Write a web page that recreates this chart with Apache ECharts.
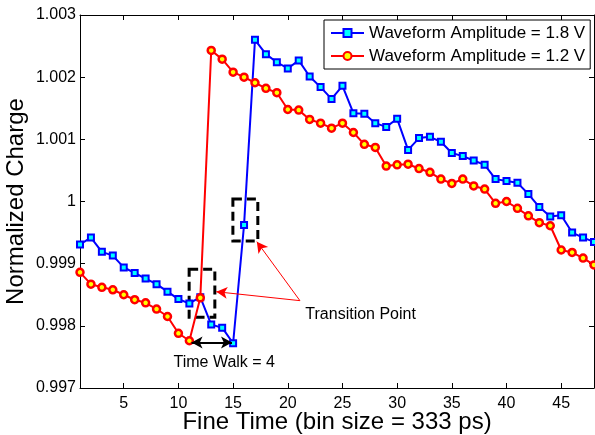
<!DOCTYPE html>
<html>
<head>
<meta charset="utf-8">
<script src="https://cdn.jsdelivr.net/npm/echarts@6/dist/echarts.min.js"></script>
<style>html,body{margin:0;padding:0;background:#fff}#c{width:595px;height:435px}</style>
</head>
<body>
<div id="c"></div>
<script>
var fineTime = [];
for (var i = 1; i <= 48; i++) fineTime.push(i);

var amp18 = [0.99931, 0.99942, 0.99919, 0.99913, 0.99894, 0.99885, 0.99876, 0.99867, 0.99855, 0.99843,
  0.99836, 0.99846, 0.99802, 0.99797, 0.99772, 0.99962, 1.00260, 1.00237, 1.00224, 1.00214,
  1.00227, 1.00201, 1.00184, 1.00165, 1.00186, 1.00142, 1.00141, 1.00126, 1.00120, 1.00133,
  1.00083, 1.00102, 1.00104, 1.00096, 1.00078, 1.00073, 1.00066, 1.00059, 1.00036, 1.00033,
  1.00030, 1.00012, 0.99991, 0.99976, 0.99978, 0.99950, 0.99942, 0.99935];

var amp12 = [0.99886, 0.99867, 0.99862, 0.99858, 0.99850, 0.99842, 0.99837, 0.99827, 0.99815, 0.99788,
  0.99776, 0.99845, 1.00243, 1.00229, 1.00208, 1.00200, 1.00191, 1.00182, 1.00175, 1.00148,
  1.00147, 1.00132, 1.00126, 1.00118, 1.00126, 1.00111, 1.00092, 1.00087, 1.00057, 1.00059,
  1.00060, 1.00053, 1.00047, 1.00036, 1.00029, 1.00036, 1.00025, 1.00020, 0.99997, 1.00000,
  0.99989, 0.99977, 0.99966, 0.99961, 0.99922, 0.99918, 0.99909, 0.99898];

var xTicks = [5, 10, 15, 20, 25, 30, 35, 40, 45];
var yTicks = [0.997, 0.998, 0.999, 1, 1.001, 1.002, 1.003];
var yTickLabels = ['0.997', '0.998', '0.999', '1', '1.001', '1.002', '1.003'];

var seriesNames = ['Waveform Amplitude = 1.8 V', 'Waveform Amplitude = 1.2 V'];

// annotation anchors (data coordinates)
var boxRed = [[10.98, 0.99891], [13.33, 0.998138]];
var boxBlue = [[14.98, 1.00004], [17.26, 0.999365]];
var arrowFrom = [21.11, 0.998405];
var arrowTo1 = [17.17, 0.999354];
var arrowTo2 = [13.46, 0.998549];
var walkFrom = [11.2, 0.99773];
var walkTo = [14.9, 0.99773];
var transText = [21.56, 0.998187];
var walkText = [14.19, 0.99741];

function pairs(y) { return fineTime.map(function (x, i) { return [x, y[i]]; }); }

var FONT = 'Liberation Sans, Arial, Helvetica, sans-serif';

var chart = echarts.init(document.getElementById('c'), null, {renderer: 'canvas'});

function yLabel(v) {
  for (var i = 0; i < yTicks.length; i++) if (Math.abs(yTicks[i] - v) < 1e-7) return yTickLabels[i];
  return '';
}

var option = {
  animation: false,
  backgroundColor: '#fff',
  grid: {left: 80, right: 1, top: 15, bottom: 47, containLabel: false, outerBoundsMode: 'none'},
  legend: {
    orient: 'vertical', left: 324, top: 20,
    padding: [4, 5, 4, 6], itemGap: 5,
    itemWidth: 33, itemHeight: 10,
    borderColor: '#000', borderWidth: 1, borderRadius: 0,
    backgroundColor: '#fff',
    textStyle: {fontFamily: FONT, fontSize: 17, color: '#000', lineHeight: 18},
    data: seriesNames
  },
  xAxis: [{
    type: 'value', min: 1, max: 48,
    name: 'Fine Time (bin size = 333 ps)', nameLocation: 'middle', nameGap: 22, nameMoveOverlap: false,
    nameTextStyle: {fontFamily: FONT, fontSize: 24, color: '#000'},
    axisLine: {show: true, onZero: false, lineStyle: {color: '#000', width: 1}},
    axisTick: {show: true, inside: true, length: 5, customValues: xTicks, lineStyle: {color: '#000'}},
    axisLabel: {show: true, customValues: xTicks, margin: 8, fontFamily: FONT, fontSize: 16, color: '#000'},
    splitLine: {show: false}
  }, {
    type: 'value', min: 1, max: 48, position: 'top',
    axisLine: {show: true, onZero: false, lineStyle: {color: '#000', width: 1}},
    axisTick: {show: true, inside: true, length: 5, customValues: xTicks, lineStyle: {color: '#000'}},
    axisLabel: {show: false},
    splitLine: {show: false}
  }],
  yAxis: [{
    type: 'value', min: 0.997, max: 1.003,
    name: 'Normalized Charge', nameLocation: 'middle', nameGap: 52, nameMoveOverlap: false,
    nameTextStyle: {fontFamily: FONT, fontSize: 24, color: '#000'},
    axisLine: {show: true, onZero: false, lineStyle: {color: '#000', width: 1}},
    axisTick: {show: true, inside: true, length: 5, customValues: yTicks, lineStyle: {color: '#000'}},
    axisLabel: {show: true, customValues: yTicks, margin: 4, fontFamily: FONT, fontSize: 16, color: '#000', formatter: yLabel},
    splitLine: {show: false}
  }, {
    type: 'value', min: 0.997, max: 1.003, position: 'right',
    axisLine: {show: true, onZero: false, lineStyle: {color: '#000', width: 1}},
    axisTick: {show: true, inside: true, length: 5, customValues: yTicks, lineStyle: {color: '#000'}},
    axisLabel: {show: false},
    splitLine: {show: false}
  }],
  series: [{
    name: seriesNames[0], type: 'line', data: pairs(amp18),
    symbol: 'rect', symbolSize: 6, showAllSymbol: true,
    lineStyle: {color: '#0000ff', width: 2},
    itemStyle: {color: '#00ffff', borderColor: '#0000ff', borderWidth: 2},
    z: 2,
    markArea: {
      silent: true,
      itemStyle: {color: 'rgba(0,0,0,0)', borderColor: '#000', borderWidth: 3, borderType: [9, 5]},
      data: [
        [{coord: boxRed[0]}, {coord: boxRed[1]}],
        [{coord: boxBlue[0]}, {coord: boxBlue[1]}]
      ]
    }
  }, {
    name: seriesNames[1], type: 'line', data: pairs(amp12),
    symbol: 'circle', symbolSize: 7, showAllSymbol: true,
    lineStyle: {color: '#ff0000', width: 2},
    itemStyle: {color: '#ffff00', borderColor: '#ff0000', borderWidth: 2.5},
    z: 3,
    markLine: {
      silent: true, animation: false,
      label: {show: false},
      symbolSize: [9, 11],
      data: [
        [{coord: arrowFrom, symbol: 'none', lineStyle: {color: '#ff0000', width: 1, type: 'solid'}, itemStyle: {color: '#ff0000'}},
         {coord: arrowTo1, symbol: 'arrow'}],
        [{coord: arrowFrom, symbol: 'none', lineStyle: {color: '#ff0000', width: 1, type: 'solid'}, itemStyle: {color: '#ff0000'}},
         {coord: arrowTo2, symbol: 'arrow'}],
        [{coord: walkFrom, symbol: 'arrow', lineStyle: {color: '#000', width: 2, type: 'solid'}, itemStyle: {color: '#000'}},
         {coord: walkTo, symbol: 'arrow'}]
      ]
    },
    markPoint: {
      silent: true,
      symbol: 'circle', symbolSize: 1,
      itemStyle: {color: 'rgba(0,0,0,0)'},
      data: [
        {coord: transText, label: {show: true, position: 'right', distance: 0, formatter: 'Transition Point', fontFamily: FONT, fontSize: 16, color: '#000'}},
        {coord: walkText, label: {show: true, position: 'inside', formatter: 'Time Walk = 4', fontFamily: FONT, fontSize: 16, color: '#000'}}
      ]
    }
  }]
};
chart.setOption(option);
</script>
</body>
</html>
